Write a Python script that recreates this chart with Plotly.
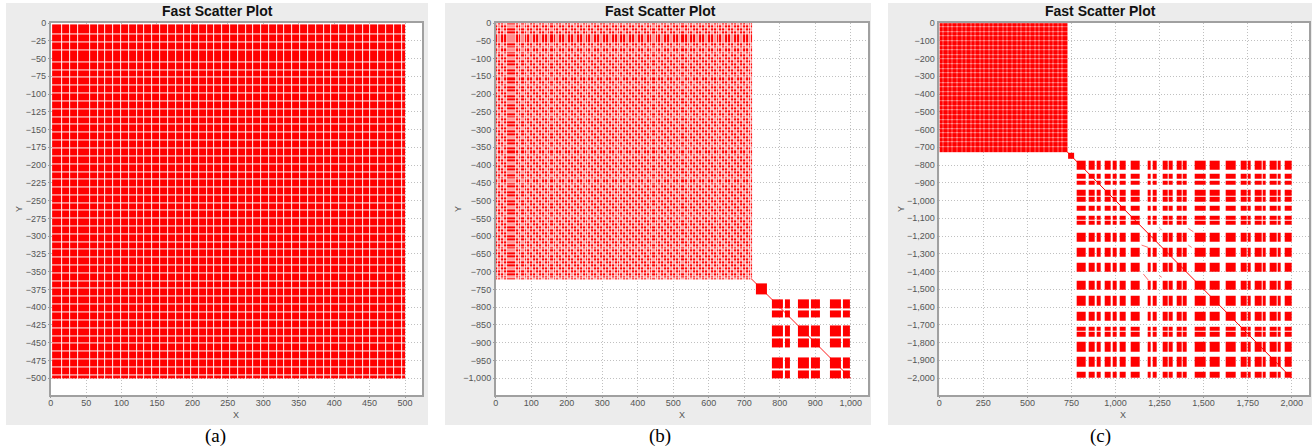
import plotly.graph_objects as go

W, H = 1312, 448
RED = "#ff0000"

# ---------- data (positive magnitudes; Y is plotted negative) ----------
a_extent = (2, 500)
a_gaps = [15.5, 26.8, 37.6, 54.5, 65.8, 76.2, 87.4, 98.7, 110, 120.9, 131.7, 142.5, 153.8, 165,
          175.9, 187.2, 198, 208.9, 220, 230.5, 241.8, 253, 263.4, 274.7, 285.5, 296.3, 307.6,
          318.4, 329.2, 340.5, 351.8, 362.6, 373.4, 384.7, 395.6, 406.9, 417.7, 429, 439.8,
          450.6, 461.9, 472.8, 484, 494.8]

b_extent = (1, 722)
b_gaps = [6, 14, 22, 31, 55, 63, 71, 80, 88, 96, 104, 112, 121, 129, 137, 145, 153, 162, 170, 178,
          186, 194, 203, 211, 219, 227, 235, 244, 252, 260, 268, 276, 285, 293, 301, 309, 317, 326,
          334, 342, 350, 358, 367, 375, 383, 391, 399, 408, 416, 424, 432, 440, 449, 457, 465, 473,
          481, 490, 498, 506, 514, 522, 531, 539, 547, 555, 563, 572, 580, 588, 596, 604, 613, 621,
          629, 637, 645, 654, 662, 670, 678, 686, 695, 703, 711, 717]
b_small = [(733, 763)]
b_x_bands = [(778, 809), (814.6, 828.7), (852.5, 883.5), (889, 913.5), (941, 972), (977.7, 998)]
b_y_bands = [(778, 803.7), (809, 830), (852, 882.5), (888, 912.7), (941, 973), (978, 1000)]
b_diag = [720, 1000]

c_extent = (1, 726)
c_gaps = [22, 47, 74, 99, 126, 151, 178, 203, 230, 255, 282, 307, 334, 360, 386, 411, 438, 463,
          490, 516, 542, 567, 594, 620, 646, 671, 698]
c_small = [(731, 766)]
c_x_bands = [(779.6, 828.8), (849.6, 883.7), (891.3, 914), (940.4, 974.5), (982, 1004.8),
             (1025.6, 1059.6), (1088, 1139), (1180.7, 1199.6), (1211, 1233.7), (1265.9, 1294.2),
             (1301.8, 1322.6), (1347.2, 1375.6), (1381.3, 1404), (1449.4, 1510), (1532.6, 1593),
             (1623.5, 1680), (1708.6, 1744.5), (1752, 1767), (1791.8, 1829.7), (1835.4, 1854.3),
             (1877, 1914.8), (1922.4, 1939.4), (1962, 2000)]
c_y_bands = [(775.6, 828), (850.7, 878.9), (886.4, 912.7), (939, 970.9), (978.4, 1006.6),
             (1027.2, 1057.3), (1087.3, 1106), (1113.6, 1136.2), (1181.2, 1233.8), (1267.6, 1318.3),
             (1348.4, 1401), (1451.7, 1504.2), (1536.2, 1592.5), (1624.4, 1675.2), (1708.9, 1733.4),
             (1740.9, 1765.3), (1793.5, 1849.8), (1879.9, 1934.3), (1964.4, 2000)]
c_diag = [725, 2000]
c_off_x = [1413, 1442, None, 1252, 1262, None, 1148, 1186, None, 1413, 1432, None, 1158, 1186, None, 1249, 1262]
c_off_y = [1157, 1176, None, 1157, 1167, None, 1251, 1264, None, 1251, 1264, None, 1414, 1448, None, 1423, 1432]

a_xticks = [0, 50, 100, 150, 200, 250, 300, 350, 400, 450, 500]
a_yticks = [0, 25, 50, 75, 100, 125, 150, 175, 200, 225, 250, 275, 300, 325, 350, 375, 400, 425, 450, 475, 500]
b_xticks = [0, 100, 200, 300, 400, 500, 600, 700, 800, 900, 1000]
b_yticks = [0, 50, 100, 150, 200, 250, 300, 350, 400, 450, 500, 550, 600, 650, 700, 750, 800, 850, 900, 950, 1000]
c_xticks = [0, 250, 500, 750, 1000, 1250, 1500, 1750, 2000]
c_yticks = [0, 100, 200, 300, 400, 500, 600, 700, 800, 900, 1000, 1100, 1200, 1300, 1400, 1500, 1600, 1700, 1800, 1900, 2000]

TITLE = "Fast Scatter Plot"
CAPTIONS = ["(a)", "(b)", "(c)"]

# ---------- pixel layout ----------
panels = [
    dict(outer=(6, 428), plot=(50.7, 422.3), xr=(0, 524.4), yr=(-524, 0), title_x=217, x_lab=236, y_lab=19, cap=215),
    dict(outer=(445, 871), plot=(495.7, 868.3), xr=(0, 1049.5), yr=(-1048, 0), title_x=660, x_lab=682, y_lab=458, cap=660),
    dict(outer=(888, 1312), plot=(939.3, 1309), xr=(0, 2098), yr=(-2097, 0), title_x=1100, x_lab=1123, y_lab=901, cap=1100),
]
PLOT_TOP, PLOT_BOTTOM = 23, 395.3
OUT_TOP, OUT_BOTTOM = 3, 425


def bands_from_gaps(extent, gaps, width):
    out, s = [], extent[0]
    for g in gaps:
        out.append((s, g - width / 2))
        s = g + width / 2
    out.append((s, extent[1]))
    return out


def edges_of(bands):
    e, solid = [bands[0][0]], []
    for i, (s, t) in enumerate(bands):
        if i:
            e.append(s)
            solid.append(False)
        e.append(t)
        solid.append(True)
    return e, solid


def lattice(xb, yb, gap_one=None, gap_two=None, stripe=None):
    xe, xs = edges_of(xb)
    ye, ys = edges_of(yb)
    z = []
    for j, sy in enumerate(ys):
        row = []
        for i, sx in enumerate(xs):
            if sx and sy:
                v = 1
                if stripe and (i - j) % stripe[0] == 0:
                    v = stripe[1]
            else:
                v = gap_one if (sx or sy) else gap_two
            row.append(v)
        z.append(row)
    return xe, [-v for v in ye][::-1], z[::-1]


fig = go.Figure()


def add_grid(i, xb, yb, one=None, two=None, stripe=None):
    xe, ye, z = lattice(xb, yb, one, two, stripe)
    fig.add_trace(go.Heatmap(x=xe, y=ye, z=z, zmin=0, zmax=1, showscale=False, hoverinfo="skip",
                             colorscale=[[0, "#ffffff"], [1, RED]], xaxis=f"x{i}", yaxis=f"y{i}"))


def add_line(i, xs, ys, width=0.9, color=RED):
    fig.add_trace(go.Scatter(x=xs, y=[None if v is None else -v for v in ys], mode="lines", hoverinfo="skip",
                             line=dict(color=color, width=width), showlegend=False,
                             xaxis=f"x{i}", yaxis=f"y{i}"))


a_b = bands_from_gaps(a_extent, a_gaps, 1.41)
add_grid(1, a_b, a_b, 0.04, 0.04)

add_line(2, b_diag, b_diag)
b_b = bands_from_gaps(b_extent, b_gaps, 2.817)
add_grid(2, b_b, b_b, 0.22, 0.0, stripe=(6, 0.45))
add_grid(2, b_small, b_small)
add_grid(2, b_x_bands, b_y_bands)

add_line(3, c_diag, c_diag, 1.0)
add_line(3, c_off_x, c_off_y, 0.9, "#ff6060")
c_b = bands_from_gaps(c_extent, c_gaps, 5.68)
add_grid(3, c_b, c_b, 0.6, 0.1)
add_grid(3, c_small, c_small)
add_grid(3, c_x_bands, c_y_bands)

ticks = [(a_xticks, a_yticks), (b_xticks, b_yticks), (c_xticks, c_yticks)]
shapes, annos = [], []
TICKFONT = dict(family="Liberation Sans", size=9, color="#555555")


def text(x, y, s, size, color, family="Liberation Sans", bold=False, angle=0):
    annos.append(dict(x=x / W, y=1 - y / H, xref="paper", yref="paper", text=f"<b>{s}</b>" if bold else s,
                      showarrow=False, xanchor="center", yanchor="middle", textangle=angle,
                      font=dict(family=family, size=size, color=color)))


for n, p in enumerate(panels):
    i = n + 1
    shapes.append(dict(type="rect", xref="paper", yref="paper", layer="below", line_width=0, fillcolor="#ececec",
                       x0=p["outer"][0] / W, x1=p["outer"][1] / W, y0=1 - OUT_BOTTOM / H, y1=1 - OUT_TOP / H))
    shapes.append(dict(type="rect", xref="paper", yref="paper", layer="below", line_width=0, fillcolor="#ffffff",
                       x0=p["plot"][0] / W, x1=p["plot"][1] / W, y0=1 - PLOT_BOTTOM / H, y1=1 - PLOT_TOP / H))
    common = dict(showgrid=True, gridcolor="#c0c0c0", griddash="1px,2px", gridwidth=1, zeroline=False,
                  showline=True, linecolor="#a0a0a0", linewidth=1.5, mirror=True, ticks="outside", ticklen=1,
                  tickcolor="#999999", tickfont=TICKFONT, separatethousands=True, tickformat=",d", automargin=False)
    fig.update_layout({
        f"xaxis{i}": dict(domain=[p["plot"][0] / W, p["plot"][1] / W], range=list(p["xr"]), anchor=f"y{i}",
                          tickmode="array", tickvals=ticks[n][0], ticklabelstandoff=-3, **common),
        f"yaxis{i}": dict(domain=[1 - PLOT_BOTTOM / H, 1 - PLOT_TOP / H], range=list(p["yr"]), anchor=f"x{i}",
                          tickmode="array", tickvals=[-v for v in ticks[n][1]], **common),
    })
    text(p["title_x"], 11, TITLE, 14, "#111111", bold=True)
    text(p["x_lab"], 415, "X", 9, "#555555")
    text(p["y_lab"], 209, "Y", 9, "#555555", angle=-90)
    text(p["cap"], 436, CAPTIONS[n], 19, "#000000", family="Liberation Serif")

fig.update_layout(width=W, height=H, margin=dict(l=0, r=0, t=0, b=0), autosize=False, showlegend=False,
                  paper_bgcolor="#ffffff", plot_bgcolor="rgba(0,0,0,0)", shapes=shapes, annotations=annos)
fig.write_html("out.html", config=dict(displayModeBar=False),
               post_script="document.body.style.margin='0';document.body.style.overflow='hidden';")
